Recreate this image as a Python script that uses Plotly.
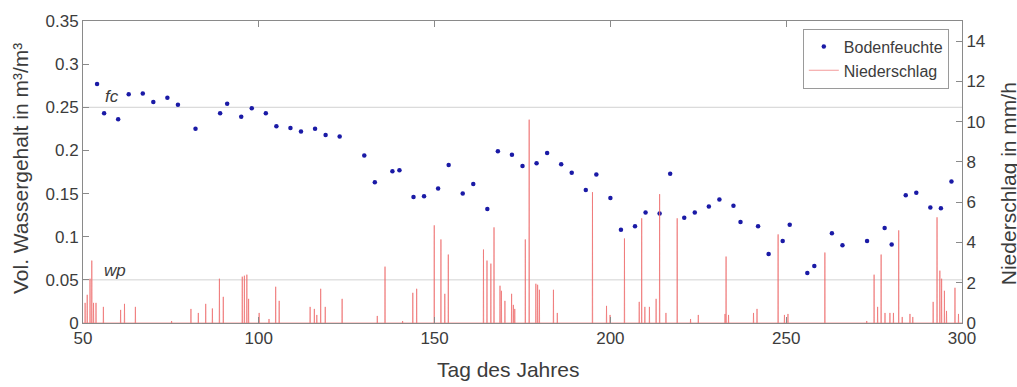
import plotly.graph_objects as go

# Soil moisture (Bodenfeuchte), m3/m3
sm_day = [54, 56, 60, 63, 67, 70, 74, 77, 82, 89, 91, 95, 98, 102, 105, 109, 112, 116, 119, 123,
          130, 133, 138, 140, 144, 147, 151, 154, 158, 161, 165, 168, 172, 175, 179, 182, 186, 189,
          193, 196, 200, 203, 207, 210, 214, 217, 221, 224, 228, 231, 235, 237, 242, 245, 249, 251,
          256, 258, 263, 266, 273, 278, 280, 284, 287, 291, 294, 297]
sm_val = [0.277, 0.243, 0.236, 0.265, 0.266, 0.256, 0.261, 0.253, 0.225, 0.243, 0.254, 0.239, 0.249,
          0.243, 0.228, 0.226, 0.222, 0.225, 0.218, 0.216, 0.194, 0.163, 0.176, 0.177, 0.146, 0.147,
          0.156, 0.183, 0.150, 0.161, 0.132, 0.199, 0.195, 0.182, 0.185, 0.197, 0.184, 0.174, 0.154,
          0.172, 0.145, 0.108, 0.112, 0.128, 0.127, 0.173, 0.122, 0.128, 0.135, 0.143, 0.136, 0.117,
          0.112, 0.080, 0.095, 0.114, 0.058, 0.066, 0.104, 0.090, 0.095, 0.110, 0.091, 0.148, 0.151,
          0.134, 0.133, 0.164]

# Precipitation (Niederschlag), mm/h
rain_day = [50.6, 51.2, 52.0, 52.5, 53.0, 53.7, 55.8, 60.7, 61.8, 64.9, 75.2, 80.7, 82.8, 84.9, 86.8,
            88.8, 89.9, 95.3, 95.9, 96.6, 97.1, 100.1, 102.9, 104.8, 105.8, 114.6, 115.8, 116.5, 117.6,
            118.9, 123.7, 133.7, 135.9, 140.9, 143.8, 144.9, 149.9, 151.8, 152.9, 153.9, 163.9, 164.9,
            166.0, 166.9, 168.6, 169.0, 170.0, 171.9, 172.4, 172.8, 175.8, 176.9, 178.8, 179.3, 179.8,
            183.8, 184.9, 194.9, 198.9, 199.9, 204.0, 208.2, 208.9, 209.8, 211.1, 213.0, 214.0, 215.8,
            219.0, 222.8, 225.0, 232.6, 232.9, 233.6, 240.7, 241.7, 247.7, 249.5, 250.5, 261.0, 272.9,
            275.0, 276.0, 277.0, 278.1, 279.5, 280.5, 282.0, 283.0, 285.2, 286.0, 291.8, 292.9, 293.7,
            294.2, 295.0, 295.6, 298.0, 299.0]
rain_mm = [1.0, 1.4, 2.2, 3.1, 1.0, 1.0, 0.8, 0.65, 0.95, 0.8, 0.1, 0.7, 0.5, 0.95, 0.72,
           2.2, 1.3, 2.3, 2.35, 2.4, 1.2, 0.5, 0.2, 1.8, 1.1, 0.8, 0.7, 0.4, 1.7,
           0.8, 1.2, 0.35, 2.8, 0.1, 1.5, 1.7, 4.85, 4.15, 1.45, 3.4, 3.65, 3.1,
           2.95, 4.75, 1.85, 1.6, 1.1, 1.45, 0.9, 0.7, 4.15, 10.1, 1.95, 1.9, 1.65,
           1.65, 0.5, 6.5, 0.85, 0.4, 4.2, 1.05, 5.2, 0.8, 0.8, 1.2, 6.4, 0.5,
           5.2, 0.2, 0.4, 0.45, 3.3, 0.4, 0.5, 0.7, 4.4, 0.4, 0.45, 3.5, 0.1,
           2.4, 0.8, 3.4, 0.5, 0.5, 0.5, 4.6, 0.3, 0.45, 0.3, 1.05, 5.25, 2.6,
           2.2, 1.6, 0.6, 1.75, 0.45]

fc_value = 0.25
wp_value = 0.05

x_ticks = [50, 100, 150, 200, 250, 300]
y_ticks = [0, 0.05, 0.1, 0.15, 0.2, 0.25, 0.3, 0.35]
y_tick_text = ["0", "0.05", "0.1", "0.15", "0.2", "0.25", "0.3", "0.35"]
y2_ticks = [0, 2, 4, 6, 8, 10, 12, 14]

# build hourly-like spike line from the events
rx, ry = [50.0], [0.0]
half = 0.06
for d, v in sorted(zip(rain_day, rain_mm)):
    rx += [d - half, d, d + half]
    ry += [0.0, v, 0.0]
rx.append(300.0)
ry.append(0.0)

FONT = "Liberation Sans, Arial, sans-serif"
TXT = "#3c3c3c"
AX = "#8a8a8a"

fig = go.Figure()
fig.add_trace(go.Scatter(x=rx, y=ry, mode="lines", name="Niederschlag", yaxis="y2",
                         line=dict(color="rgba(238,110,110,0.7)", width=1)))
fig.add_trace(go.Scatter(x=sm_day, y=sm_val, mode="markers", name="Bodenfeuchte",
                         marker=dict(color="#1a1aa6", size=4.5)))

for val in (fc_value, wp_value):
    fig.add_shape(type="line", xref="paper", x0=0, x1=1, yref="y", y0=val, y1=val,
                  line=dict(color="#d2d2d2", width=1), layer="below")

fig.update_layout(
    width=1017, height=387,
    margin=dict(l=83, r=55, t=15, b=64),
    paper_bgcolor="white", plot_bgcolor="white",
    font=dict(family=FONT, color=TXT, size=17),
    showlegend=True,
    legend=dict(x=0.985, y=0.975, xanchor="right", yanchor="top",
                bordercolor="#9a9a9a", borderwidth=1, bgcolor="white",
                font=dict(size=16, color=TXT), traceorder="reversed",
                itemwidth=30, tracegroupgap=0),
    xaxis=dict(range=[50, 300], tickvals=x_ticks, ticks="inside", ticklen=6, tickcolor=AX,
               showline=True, linecolor=AX, linewidth=1, mirror="ticks", showgrid=False,
               zeroline=False, tickfont=dict(size=17, color=TXT)),
    yaxis=dict(range=[0, 0.35], tickvals=y_ticks, ticktext=y_tick_text, ticks="inside",
               ticklen=6, tickcolor=AX, showline=True, linecolor=AX, linewidth=1,
               showgrid=False, zeroline=False, tickfont=dict(size=17, color=TXT)),
    yaxis2=dict(range=[0, 15], tickvals=y2_ticks, overlaying="y", side="right", ticks="inside",
                ticklen=6, tickcolor=AX, showline=True, linecolor=AX, linewidth=1,
                showgrid=False, zeroline=False, tickfont=dict(size=17, color=TXT)),
    annotations=[
        dict(text="Tag des Jahres", xref="paper", yref="paper", x=0.4835, y=-0.153,
             xanchor="center", yanchor="middle", showarrow=False, font=dict(size=21, color=TXT)),
        dict(text="Vol. Wassergehalt in m³/m³", xref="paper", yref="paper", x=-0.0717, y=0.513,
             xanchor="center", yanchor="middle", textangle=-90, showarrow=False,
             font=dict(size=21, color=TXT)),
        dict(text="Niederschlag in mm/h", xref="paper", yref="paper", x=1.0525, y=0.46,
             xanchor="center", yanchor="middle", textangle=-90, showarrow=False,
             font=dict(size=21, color=TXT)),
        dict(text="<i>fc</i>", xref="x", yref="y", x=58.3, y=0.263, showarrow=False,
             font=dict(size=17, color=TXT)),
        dict(text="<i>wp</i>", xref="x", yref="y", x=59.2, y=0.061, showarrow=False,
             font=dict(size=17, color=TXT)),
    ],
)

fig.write_html("out.html")
